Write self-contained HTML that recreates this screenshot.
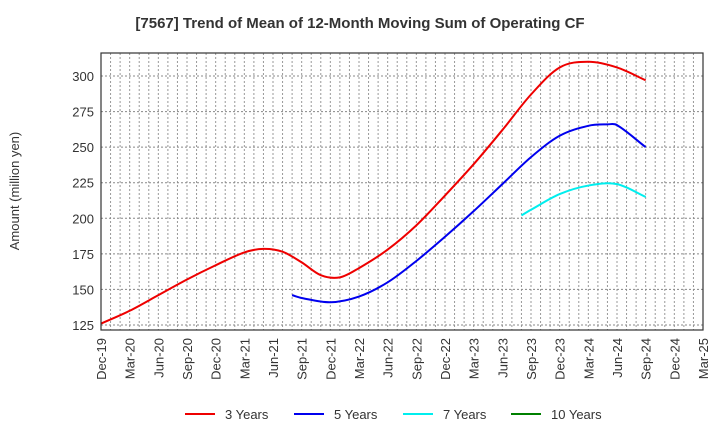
<!DOCTYPE html>
<html><head><meta charset="utf-8"><style>
body{margin:0;background:#fff;font-family:"Liberation Sans",sans-serif}
</style></head><body>
<svg id="chart" width="720" height="440" xmlns="http://www.w3.org/2000/svg">
<text x="360" y="28" text-anchor="middle" font-size="15" font-weight="bold" fill="#333">[7567]  Trend of Mean of 12-Month Moving Sum of Operating CF</text>
<text transform="translate(19,191) rotate(-90)" text-anchor="middle" font-size="13" fill="#333">Amount (million yen)</text>
<g id="grid"></g><g id="series"></g><g id="axes"></g><g id="legend"></g>
</svg>
<script>
const xLabels=["Dec-19","Mar-20","Jun-20","Sep-20","Dec-20","Mar-21","Jun-21","Sep-21","Dec-21","Mar-22","Jun-22","Sep-22","Dec-22","Mar-23","Jun-23","Sep-23","Dec-23","Mar-24","Jun-24","Sep-24","Dec-24","Mar-25"];
const yTicks=[125,150,175,200,225,250,275,300];
const m3=[0,3,6,9,12,15,17,19,21,23,25,27,30,33,36,39,42,45,48,51,54,57];
const v3=[126,135,146,157,167,176,178.5,176.5,169,160,158.5,165,178,195,216,238,262,287,306,310,306,297];
const m5=[20,21,24,27,30,33,36,39,42,45,48,51,53,54,57];
const v5=[146,144,141,145,155,170,187,205,224,243,258,265,266,265.5,250];
const m7=[44,45,48,51,54,57];
const v7=[202,206,217,223,224,215];
const m10=[];const v10=[];
const NS="http://www.w3.org/2000/svg";
const L=101,R=703,T=53,B=330;
const xs=m=>L+m*(R-L)/63;
const ys=v=>325-(v-125)*(325-76)/175;
function el(t,a,p){const e=document.createElementNS(NS,t);for(const k in a)e.setAttribute(k,a[k]);document.getElementById(p).appendChild(e);return e;}
for(let m=1;m<63;m++){const g=el('line',{x1:xs(m),x2:xs(m),y1:T,y2:B,stroke:'#999','stroke-dasharray':'2,2','stroke-width':1},'grid');

}
yTicks.forEach(t=>{const g=el('line',{x1:L,x2:R,y1:ys(t),y2:ys(t),stroke:'#888','stroke-dasharray':'2,2','stroke-width':1},'grid');


const tx=el('text',{x:L-7,y:ys(t)+5,'text-anchor':'end','font-size':13,fill:'#333'},'axes');tx.textContent=t;

});
const fr=el('rect',{x:L,y:T,width:R-L,height:B-T,fill:'none',stroke:'#333','stroke-width':1.2},'axes');


xLabels.forEach((s,i)=>{const x=xs(i*3);const tx=el('text',{transform:`translate(${x+5},338) rotate(-90)`,'text-anchor':'end','font-size':13,fill:'#333'},'axes');tx.textContent=s;

});
function path(ms,vs){const p=ms.map((m,i)=>[xs(m),ys(vs[i])]);const n=p.length;if(!n)return '';
const sl=p.map((q,i)=>{const a=p[Math.max(i-1,0)],b=p[Math.min(i+1,n-1)];return (b[1]-a[1])/(b[0]-a[0]);});
let d=`M${p[0][0]},${p[0][1]}`;
for(let i=0;i<n-1;i++){const dx=(p[i+1][0]-p[i][0])/3;
d+=` C${p[i][0]+dx},${p[i][1]+sl[i]*dx} ${p[i+1][0]-dx},${p[i+1][1]-sl[i+1]*dx} ${p[i+1][0]},${p[i+1][1]}`;}return d;}
const ser=[[m3,v3,'#ee0000','3 Years','series-3-years'],[m5,v5,'#0000ee','5 Years','series-5-years'],[m7,v7,'#00eeee','7 Years','series-7-years'],[m10,v10,'#008000','10 Years','series-10-years']];
const lx=[185,294,403,511];
ser.forEach((s,i)=>{if(s[0].length){const p=el('path',{d:path(s[0],s[1]),fill:'none',stroke:s[2],'stroke-width':2},'series');

}
const ln=el('line',{x1:lx[i],x2:lx[i]+30,y1:414,y2:414,stroke:s[2],'stroke-width':2},'legend');


const t=el('text',{x:lx[i]+40,y:419,'font-size':13,fill:'#333'},'legend');t.textContent=s[3];

});
</script>
</body></html>
